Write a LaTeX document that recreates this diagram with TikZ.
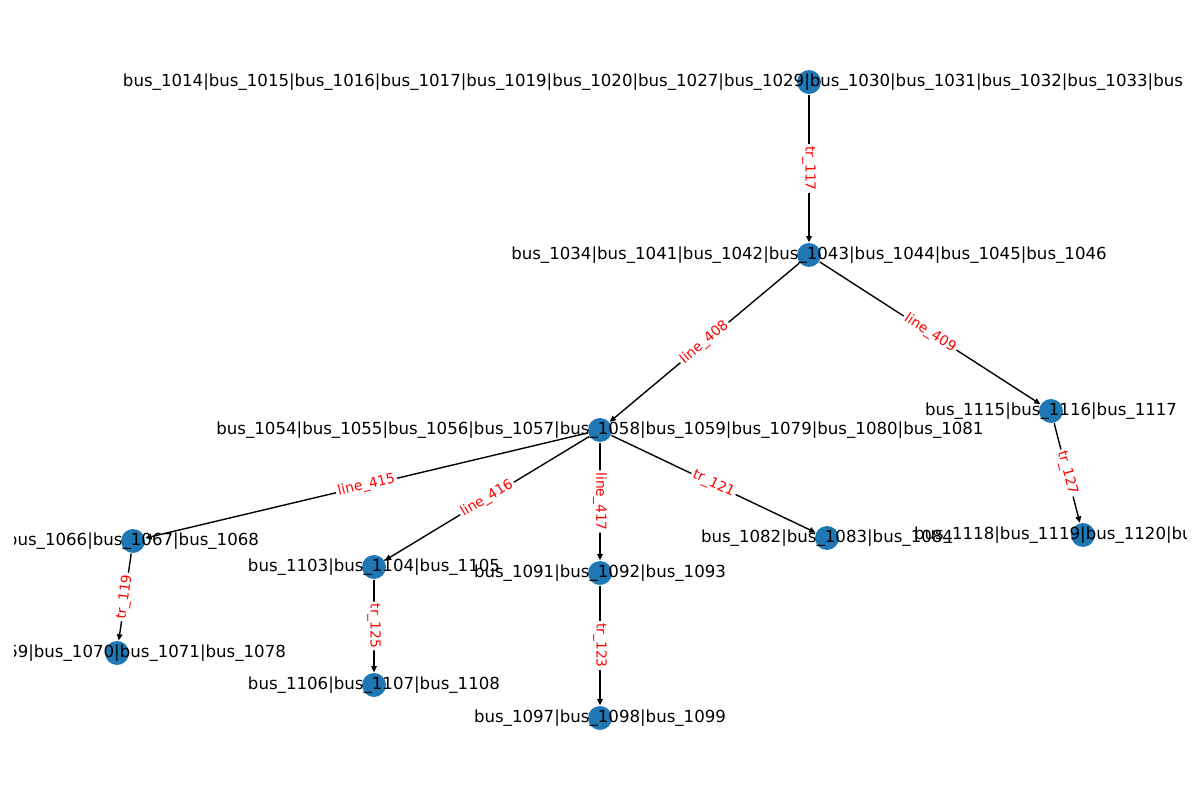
\documentclass[tikz,border=0pt]{standalone}
\usepackage{fontspec}
\setmainfont{DejaVu Sans}
\usepackage{tikz}
\usetikzlibrary{arrows.meta}
\definecolor{node_blue}{RGB}{31,119,180}
\definecolor{label_red}{RGB}{255,0,0}

\begin{document}
\begin{tikzpicture}[->,line width=1pt,>={Triangle[length=4.5pt,width=4pt]},x=1in,y=1in]
    \tikzstyle{bus}=[circle, fill=node_blue, draw=none, minimum size=17.3pt, inner sep=0pt]
    \tikzstyle{txt}=[inner sep=0pt, text=black, font=\fontsize{12pt}{14pt}\selectfont]
    \tikzstyle{lbl}=[fill=white, rounded corners=2pt, inner sep=1.5pt, text=label_red, font=\fontsize{10pt}{12pt}\selectfont]

    \useasboundingbox (0,0) rectangle (12,8);
    \clip (0.14,0) rectangle (11.86,8);

    \node[bus] (b1014) at (8.09,7.18) {};
    \node[bus] (b1034) at (8.09,5.45) {};
    \node[bus] (b1054) at (6.00,3.70) {};
    \node[bus] (b1115) at (10.51,3.89) {};
    \node[bus] (b1066) at (1.33,2.59) {};
    \node[bus] (b1103) at (3.74,2.33) {};
    \node[bus] (b1091) at (6.00,2.27) {};
    \node[bus] (b1082) at (8.27,2.62) {};
    \node[bus] (b1118) at (10.83,2.65) {};
    \node[bus] (b1069) at (1.17,1.47) {};
    \node[bus] (b1106) at (3.74,1.15) {};
    \node[bus] (b1097) at (6.00,0.82) {};

    \path
     (b1014) edge node[lbl, rotate=-90] {tr\_117} (b1034)
     (b1034) edge node[lbl, rotate=40] {line\_408} (b1054)
     (b1034) edge node[lbl, rotate=-32.9] {line\_409} (b1115)
     (b1054) edge node[lbl, rotate=13.4] {line\_415} (b1066)
     (b1054) edge node[lbl, rotate=31.2] {line\_416} (b1103)
     (b1054) edge node[lbl, rotate=-90] {line\_417} (b1091)
     (b1054) edge node[lbl, rotate=-25.5] {tr\_121} (b1082)
     (b1115) edge node[lbl, rotate=-75.1] {tr\_127} (b1118)
     (b1066) edge node[lbl, rotate=81.9] {tr\_119} (b1069)
     (b1103) edge node[lbl, rotate=-90] {tr\_125} (b1106)
     (b1091) edge node[lbl, rotate=-90] {tr\_123} (b1097)
     ;

    % bus names, drawn over the circles
    \node[txt, anchor=west] (t1014) at (1.223,7.18) {bus\_1014|bus\_1015|bus\_1016|bus\_1017|bus\_1019|bus\_1020|bus\_1027|bus\_1029|bus\_1030|bus\_1031|bus\_1032|bus\_1033|bus};
    \node[txt] (t1034) at (b1034) {bus\_1034|bus\_1041|bus\_1042|bus\_1043|bus\_1044|bus\_1045|bus\_1046};
    \node[txt] (t1054) at (b1054) {bus\_1054|bus\_1055|bus\_1056|bus\_1057|bus\_1058|bus\_1059|bus\_1079|bus\_1080|bus\_1081};
    \node[txt] (t1115) at (b1115) {bus\_1115|bus\_1116|bus\_1117};
    \node[txt] (t1066) at (b1066) {bus\_1066|bus\_1067|bus\_1068};
    \node[txt] (t1103) at (b1103) {bus\_1103|bus\_1104|bus\_1105};
    \node[txt] (t1091) at (b1091) {bus\_1091|bus\_1092|bus\_1093};
    \node[txt] (t1082) at (b1082) {bus\_1082|bus\_1083|bus\_1084};
    \node[txt, anchor=west] (t1118) at (9.134,2.65) {bus\_1118|bus\_1119|bus\_1120|bu};
    \node[txt] (t1069) at (b1069) {bus\_1069|bus\_1070|bus\_1071|bus\_1078};
    \node[txt] (t1106) at (b1106) {bus\_1106|bus\_1107|bus\_1108};
    \node[txt] (t1097) at (b1097) {bus\_1097|bus\_1098|bus\_1099};
\end{tikzpicture}
\end{document}
